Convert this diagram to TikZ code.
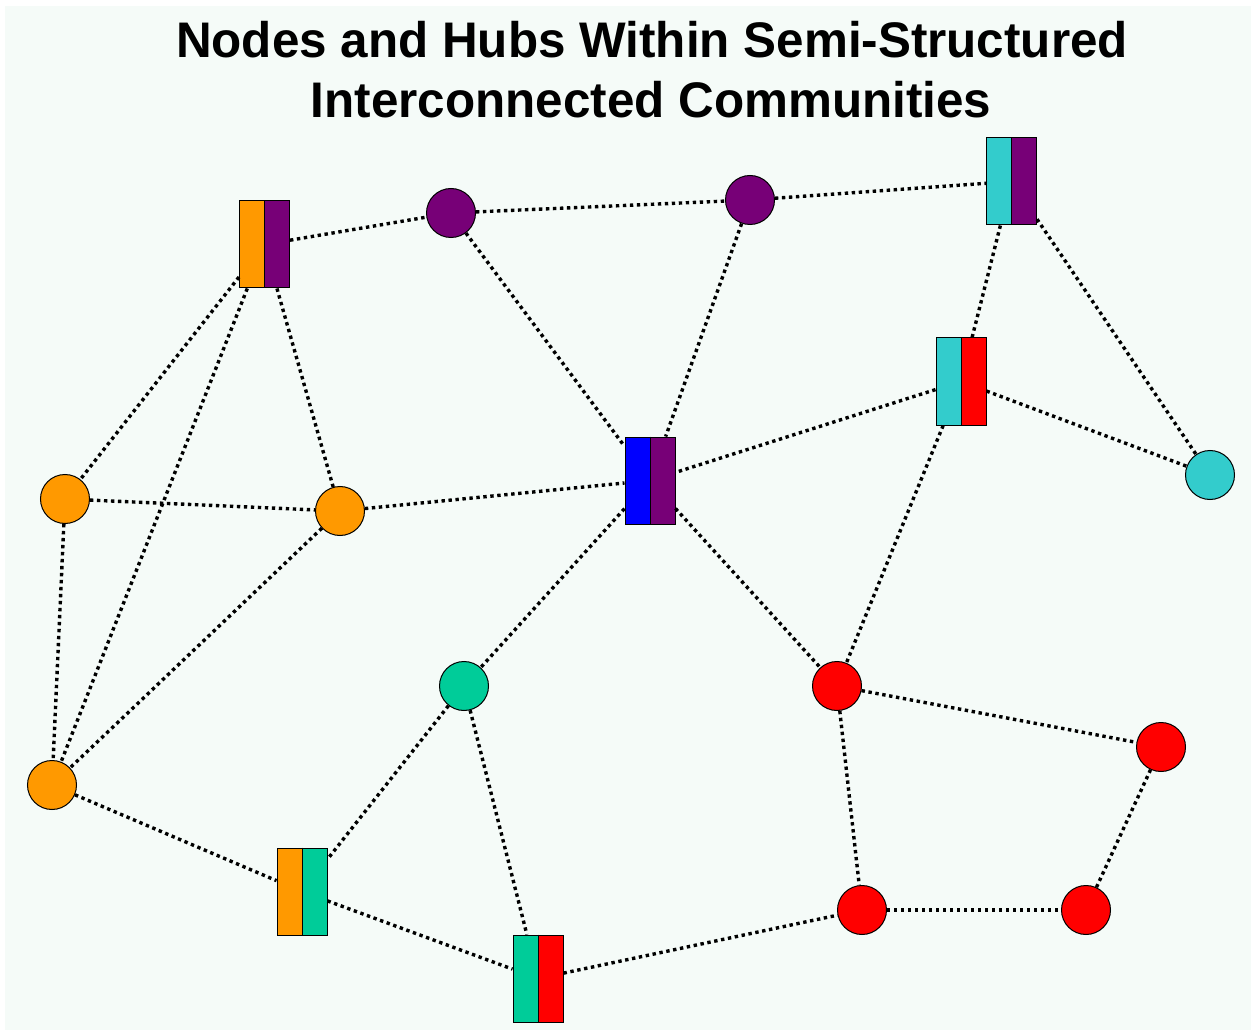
\documentclass[tikz,border=0pt]{standalone}
\usepackage{fontspec}
\setmainfont{Liberation Sans}
\definecolor{bgc}{HTML}{F5FBF8}
\definecolor{cor}{HTML}{FF9900}
\definecolor{cpu}{HTML}{770077}
\definecolor{ccy}{HTML}{33CCCC}
\definecolor{cgr}{HTML}{00CC99}
\definecolor{cre}{HTML}{FF0000}
\definecolor{cbl}{HTML}{0000FF}
\begin{document}
\begin{tikzpicture}[x=1pt,y=-1pt,
  dot/.style={circle,draw=black,line width=1pt,minimum size=49pt,inner sep=0pt,fill=#1},
  hub/.style={rectangle,draw=black,line width=1pt,minimum width=50pt,minimum height=87pt,inner sep=0pt,
    path picture={\fill[#1] (path picture bounding box.south west) rectangle (path picture bounding box.north);}},
  link/.style={line width=3.4pt,dash pattern=on 3.4pt off 3.6pt,black},
  ttl/.style={font=\bfseries\fontsize{50}{60}\selectfont,anchor=base,xscale=0.988}
]
\useasboundingbox (0,0) rectangle (1251,1032);
\fill[white] (0,0) rectangle (1251,1032);
\fill[bgc] (5,6) rectangle (1251,1030);
\node[ttl] (t1) at (652,58) {Nodes and Hubs Within Semi-Structured};
\node[ttl] (t2) at (651,118) {Interconnected Communities};
% hubs (left half colour via path picture, right half fill)
\node[hub=cor,fill=cpu] (H1) at (264.5,244.5) {};
\node[hub=ccy,fill=cpu] (H2) at (1011.5,181.5) {};
\node[hub=ccy,fill=cre] (H3) at (961,381.5) {};
\node[hub=cbl,fill=cpu] (H4) at (650,480.5) {};
\node[hub=cor,fill=cgr] (H5) at (302,891.5) {};
\node[hub=cgr,fill=cre] (H6) at (538,978.5) {};
% circles
\node[dot=cpu] (P1) at (451,213) {};
\node[dot=cpu] (P2) at (750,200) {};
\node[dot=ccy] (C1) at (1210,475) {};
\node[dot=cor] (O1) at (65,499) {};
\node[dot=cor] (O2) at (340,511) {};
\node[dot=cor] (O3) at (52,785) {};
\node[dot=cgr] (G1) at (464,686) {};
\node[dot=cre] (R1) at (837,686) {};
\node[dot=cre] (R2) at (1161,747) {};
\node[dot=cre] (R3) at (862,910) {};
\node[dot=cre] (R4) at (1086,910) {};
\foreach \h in {H1,H2,H3,H4,H5,H6}{\draw[line width=1pt] (\h.north) -- (\h.south);}
\begin{scope}[link]
\draw (H1) -- (P1);
\draw (P1) -- (P2);
\draw (P2) -- (H2);
\draw (P1) -- (H4);
\draw (P2) -- (H4);
\draw (H2) -- (H3);
\draw (H2) -- (C1);
\draw (H3) -- (C1);
\draw (H3) -- (H4);
\draw (H3) -- (R1);
\draw (H1) -- (O1);
\draw (H1) -- (O3);
\draw (H1) -- (O2);
\draw (O1) -- (O2);
\draw (O1) -- (O3);
\draw (O2) -- (H4);
\draw (O2) -- (O3);
\draw (H4) -- (G1);
\draw (H4) -- (R1);
\draw (G1) -- (H5);
\draw (G1) -- (H6);
\draw (O3) -- (H5);
\draw (H5) -- (H6);
\draw (H6) -- (R3);
\draw (R1) -- (R2);
\draw (R1) -- (R3);
\draw (R2) -- (R4);
\draw (R3) -- (R4);
\end{scope}
\end{tikzpicture}
\end{document}
